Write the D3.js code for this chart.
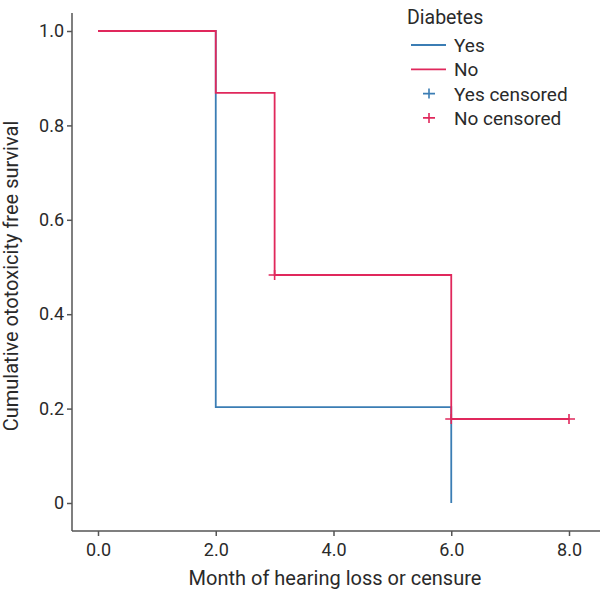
<!DOCTYPE html>
<html><head><meta charset="utf-8">
<script src="https://cdn.jsdelivr.net/npm/d3@7"></script>
<style>body{margin:0;background:#fff}text{font-family:Roboto,"DejaVu Sans",sans-serif;fill:#2a2a2a}</style>
</head><body><svg id="c" width="600" height="589"></svg>
<script>
const xTicks=[0,2,4,6,8];
const yTicks=[0,0.2,0.4,0.6,0.8,1.0];
const yesTimes=[0,2,6];
const yesSurv=[1.0,0.203,0];
const yesEnd=6;
const noTimes=[0,2,3,6];
const noSurv=[1.0,0.869,0.483,0.178];
const noEnd=8;
const yesCensT=[];
const yesCensS=[];
const noCensT=[3,6,8];
const noCensS=[0.483,0.178,0.178];
const blue="#3b7db4", red="#e0285c";
const svg=d3.select("#c");
const x=d3.scaleLinear().domain([0,8]).range([98,569]);
const y=d3.scaleLinear().domain([0,1]).range([503,31]);
const yAx=svg.append("g").attr("transform","translate(72,0)")
 .call(d3.axisLeft(y).tickValues(yTicks).tickSize(5).tickPadding(3).tickFormat(d=>d===0?"0":d3.format(".1f")(d)));
yAx.select(".domain").attr("d","M0,13V531");
const xAx=svg.append("g").attr("transform","translate(0,531)")
 .call(d3.axisBottom(x).tickValues(xTicks).tickSize(5).tickPadding(7).tickFormat(d3.format(".1f")));
xAx.select(".domain").attr("d","M72,0H600");
svg.selectAll(".tick text").style("font-size","18px").attr("fill","#2a2a2a");
svg.selectAll(".domain,.tick line").attr("stroke","#555").attr("stroke-width",1.5);
function stepPath(t,s,end){
  const pts=t.map((d,i)=>[d,s[i]]);
  pts.push([end,s[s.length-1]]);
  return d3.line().x(d=>x(d[0])).y(d=>y(d[1])).curve(d3.curveStepAfter)(pts);
}
svg.append("path").attr("d",stepPath(yesTimes,yesSurv,yesEnd)).attr("fill","none").attr("stroke",blue).attr("stroke-width",1.8);
svg.append("path").attr("d",stepPath(noTimes,noSurv,noEnd)).attr("fill","none").attr("stroke",red).attr("stroke-width",1.8);
function plus(g,cx,cy,col){
  g.append("path").attr("d",`M${cx-6},${cy}H${cx+6}M${cx},${cy-5}V${cy+5}`).attr("stroke",col).attr("stroke-width",1.6).attr("fill","none");
}
const cg=svg.append("g");
yesCensT.forEach((t,i)=>plus(cg,x(t),y(yesCensS[i]),blue));
noCensT.forEach((t,i)=>plus(cg,x(t),y(noCensS[i]),red));
svg.append("text").attr("x",335).attr("y",585).attr("text-anchor","middle").style("font-size","20px").text("Month of hearing loss or censure");
svg.append("text").attr("transform","translate(18,276) rotate(-90)").attr("text-anchor","middle").style("font-size","20px").text("Cumulative ototoxicity free survival");
const lg=svg.append("g");
lg.append("text").attr("x",407).attr("y",24).style("font-size","19.5px").text("Diabetes");
const items=[["Yes",blue,"line"],["No",red,"line"],["Yes censored",blue,"plus"],["No censored",red,"plus"]];
items.forEach((it,i)=>{
  const cy=45+i*24.3;
  if(it[2]==="line") lg.append("line").attr("x1",411).attr("x2",446).attr("y1",cy).attr("y2",cy).attr("stroke",it[1]).attr("stroke-width",1.8);
  else plus(lg,429,cy,it[1]);
  lg.append("text").attr("x",454).attr("y",cy+7).style("font-size","19px").text(it[0]);
});
</script></body></html>
